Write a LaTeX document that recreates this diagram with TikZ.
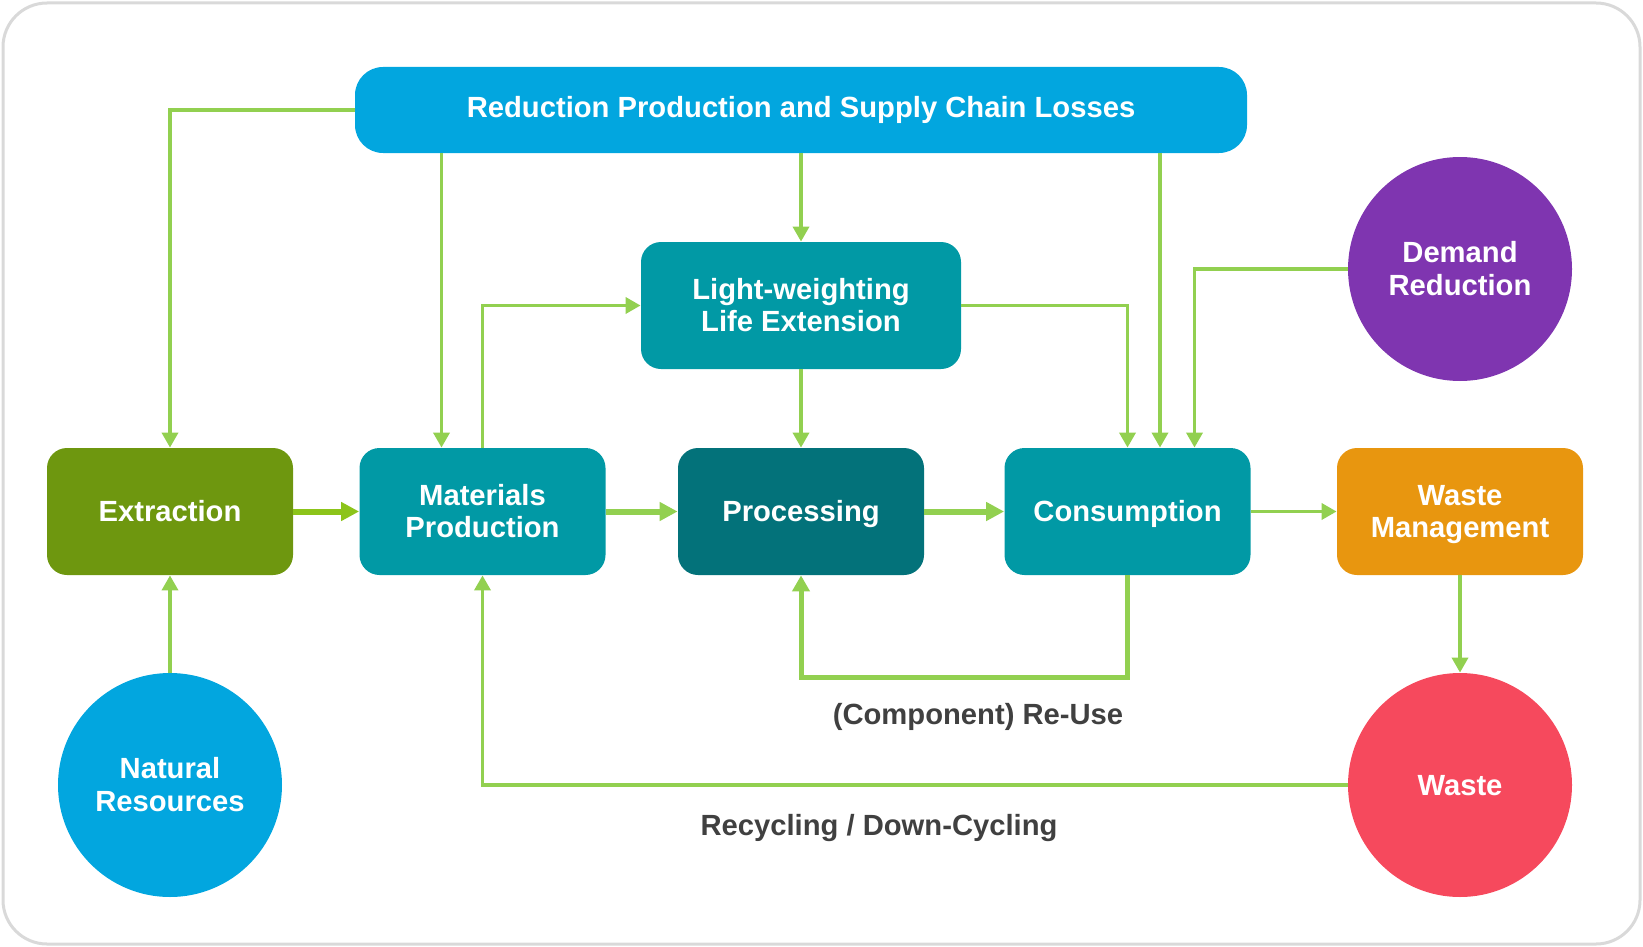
\documentclass[tikz,border=0pt]{standalone}
\usepackage{fontspec}
\setmainfont{Liberation Sans}
\usetikzlibrary{arrows.meta,positioning,calc}
\definecolor{frame}{HTML}{D9D9D9}
\definecolor{topblue}{HTML}{02A6DF}
\definecolor{teal}{HTML}{0199A5}
\definecolor{darkteal}{HTML}{03727A}
\definecolor{olive}{HTML}{6E970F}
\definecolor{orangew}{HTML}{E8960F}
\definecolor{purpled}{HTML}{7F35B0}
\definecolor{redw}{HTML}{F6495D}
\definecolor{conng}{HTML}{92D050}
\definecolor{conng2}{HTML}{8CC41A}
\definecolor{labelc}{HTML}{404040}
\newcommand\mystrut{\rule[-2.4pt]{0pt}{14.9pt}}
\newcommand\myline[1]{\mystrut\smash{#1}}
\newcommand\mytopline[1]{\rule[-2.4pt]{0pt}{12.8pt}\smash{#1}}
\tikzset{
  txt/.style={font=\fontsize{14.6}{16.3}\selectfont\bfseries, text=white, align=center},
  box/.style={txt, rectangle, rounded corners=10pt, minimum width=123pt, minimum height=63.5pt, inner sep=0pt},
  circ/.style={txt, circle, minimum size=112pt, inner sep=0pt},
  conn/.style={draw=conng, line width=1.75pt, line join=miter, -{Triangle[length=7.5pt,width=8pt]}},
  thickconn/.style={draw=conng, line width=3pt, -{Triangle[length=9pt,width=9pt]}},
  loopconn/.style={draw=conng, line width=2.5pt, line join=miter, -{Triangle[length=8pt,width=8.5pt]}},
  lbl/.style={font=\fontsize{14.6}{16.3}\selectfont\bfseries, text=labelc}
}
\begin{document}
\begin{tikzpicture}[x=0.5pt,y=-0.5pt]
\useasboundingbox (0,0) rectangle (1643,947);
\draw[frame, line width=1.5pt, rounded corners=22pt] (3,3) rectangle (1640,944);

\node[txt, fill=topblue, rectangle, rounded corners=14pt, minimum width=446pt, minimum height=43pt, inner sep=0pt] (R) at (801,110) {\mytopline{Reduction Production and Supply Chain Losses}};
\node[box, fill=teal, minimum width=160pt] (L) at (801,305.5) {\myline{Light-weighting}\\\myline{Life Extension}};
\node[box, fill=olive] (E) at (170,511.5) {\myline{Extraction}};
\node[box, fill=teal] (M) at (482.5,511.5) {\myline{Materials}\\\myline{Production}};
\node[box, fill=darkteal] (P) at (801,511.5) {\myline{Processing}};
\node[box, fill=teal] (C) at (1127.5,511.5) {\myline{Consumption}};
\node[box, fill=orangew] (W) at (1460,511.5) {\myline{Waste}\\\myline{Management}};
\node[circ, fill=topblue] (NR) at (170,785) {\myline{Natural}\\\myline{Resources}};
\node[circ, fill=purpled] (D) at (1460,269) {\myline{Demand}\\\myline{Reduction}};
\node[circ, fill=redw] (X) at (1460,785) {\myline{Waste}};

\node[lbl] (reuseL) at (978,717) {(Component) Re-Use};
\node[lbl] (recyL) at (879,828) {Recycling / Down-Cycling};

\coordinate (ru) at (960,677);

% from top box
\draw[conn] (R.west) -| (E.north);
\draw[conn] ([xshift=-20.5pt]M.north |- R.south) -- ([xshift=-20.5pt]M.north);
\draw[conn] (R.south) -- (L.north);
\draw[conn] ([xshift=16.25pt]C.north |- R.south) -- ([xshift=16.25pt]C.north);
% light-weighting
\draw[conn] (L.east) -| (C.north);
\draw[conn] (M.north) |- (L.west);
\draw[conn] (L.south) -- (P.north);
% demand reduction
\draw[conn] (D.west) -| ([xshift=33.5pt]C.north);
% main chain
\draw[thickconn, draw=conng2] (E.east) -- (M.west);
\draw[thickconn] (M.east) -- (P.west);
\draw[thickconn] (P.east) -- (C.west);
\draw[conn] (C.east) -- (W.west);
\draw[conn] (W.south) -- (X.north);
\draw[conn] (NR.north) -- (E.south);
% loops
\draw[loopconn] (C.south) |- (ru) -| (P.south);
\draw[conn] (X.west) -| (M.south);
\end{tikzpicture}
\end{document}
